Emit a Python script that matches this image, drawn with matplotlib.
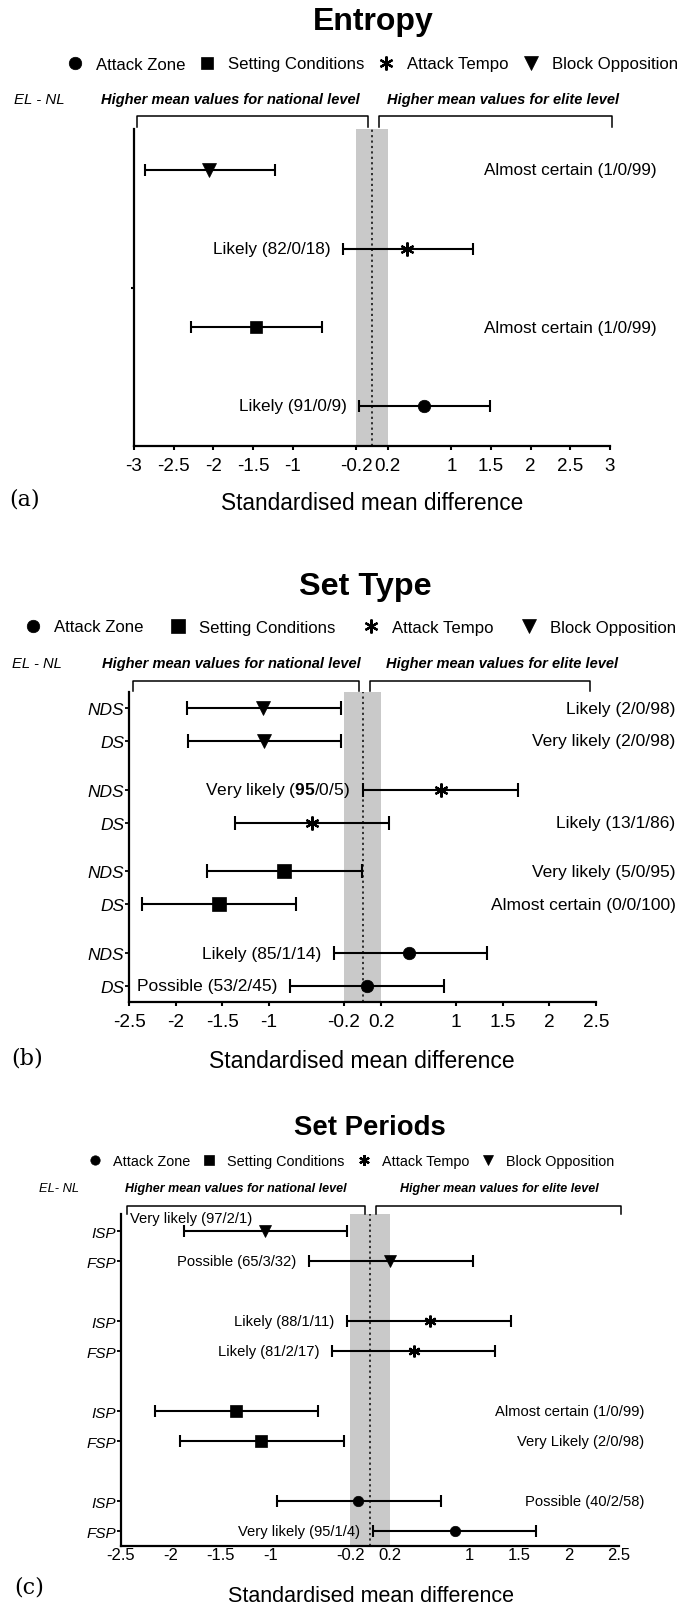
import numpy as np
import matplotlib
matplotlib.use('Agg')
import matplotlib.pyplot as plt
import matplotlib.transforms as mtransforms

plt.rcParams['font.family'] = ['Liberation Sans', 'DejaVu Sans']
plt.rcParams['mathtext.fontset'] = 'custom'
plt.rcParams['mathtext.rm'] = 'Liberation Sans'
plt.rcParams['mathtext.bf'] = 'Liberation Sans:bold'

W, H = 684, 1608

# legend order
categories = ['Attack Zone', 'Setting Conditions', 'Attack Tempo', 'Block Opposition']
markers = {'Attack Zone': 'o', 'Setting Conditions': 's',
           'Attack Tempo': (6, 2, 0), 'Block Opposition': 'v'}

# (a) Entropy  - rows from top to bottom
entropy_cat = ['Block Opposition', 'Attack Tempo', 'Setting Conditions', 'Attack Zone']
entropy_mean = [-2.05, 0.44, -1.46, 0.65]
entropy_lo = [-2.86, -0.37, -2.28, -0.16]
entropy_hi = [-1.22, 1.27, -0.63, 1.49]
entropy_labels = ['Almost certain (1/0/99)', 'Likely (82/0/18)',
                  'Almost certain (1/0/99)', 'Likely (91/0/9)']
entropy_side = ['right', 'left', 'right', 'left']

# (b) Set Type
settype_cat = ['Block Opposition', 'Block Opposition', 'Attack Tempo', 'Attack Tempo',
               'Setting Conditions', 'Setting Conditions', 'Attack Zone', 'Attack Zone']
settype_rows = ['NDS', 'DS'] * 4
settype_mean = [-1.06, -1.05, 0.84, -0.54, -0.84, -1.54, 0.50, 0.05]
settype_lo = [-1.88, -1.87, 0.00, -1.36, -1.66, -2.36, -0.31, -0.78]
settype_hi = [-0.23, -0.23, 1.66, 0.28, -0.01, -0.71, 1.33, 0.87]
settype_labels = ['Likely (2/0/98)', 'Very likely (2/0/98)',
                  r'Very likely ($\mathbf{95}$/0/5)', 'Likely (13/1/86)',
                  'Very likely (5/0/95)', 'Almost certain (0/0/100)',
                  'Likely (85/1/14)', 'Possible (53/2/45)']
settype_side = ['right', 'right', 'left', 'right', 'right', 'right', 'left', 'left']

# (c) Set Periods
setper_cat = settype_cat
setper_rows = ['ISP', 'FSP'] * 4
setper_mean = [-1.05, 0.20, 0.60, 0.44, -1.35, -1.09, -0.12, 0.85]
setper_lo = [-1.87, -0.61, -0.23, -0.38, -2.16, -1.91, -0.93, 0.03]
setper_hi = [-0.23, 1.03, 1.42, 1.26, -0.52, -0.26, 0.71, 1.67]
setper_labels = ['Very likely (97/2/1)', 'Possible (65/3/32)', 'Likely (88/1/11)',
                 'Likely (81/2/17)', 'Almost certain (1/0/99)', 'Very Likely (2/0/98)',
                 'Possible (40/2/58)', 'Very likely (95/1/4)']
setper_side = ['top', 'left', 'left', 'left', 'right', 'right', 'right', 'left']

ticks_a = [-3, -2.5, -2, -1.5, -1, -0.2, 0.2, 1, 1.5, 2, 2.5, 3]
ticks_bc = [-2.5, -2, -1.5, -1, -0.2, 0.2, 1, 1.5, 2, 2.5]


def fx(px):
    return px / W


def fy(py):
    return 1 - py / H


def px_axes(l, t, r, b):
    return [l / W, 1 - b / H, (r - l) / W, (b - t) / H]


def tick_text(v):
    return ('%g' % v).replace('\u2212', '-')


fig = plt.figure(figsize=(W / 100, H / 100), dpi=100)


def panel(box, cats, mean, lo, hi, ypos, ylim, labels, sides, xlim, xticks,
          ms, cap, fs_ann, fs_tick, tick_len, tick_pad, right_x, top_off,
          brackets, br_top, br_bot, rowlabels=None, fs_row=12):
    ax = fig.add_axes(px_axes(*box))
    mean = np.array(mean)
    lo = np.array(lo)
    hi = np.array(hi)
    ypos = np.array(ypos, dtype=float)

    ax.axvspan(-0.2, 0.2, color='#c9c9c9', lw=0, zorder=0)
    ax.axvline(0, color='#222222', ls=(0, (1.2, 1.8)), lw=1.3, zorder=1)
    ax.errorbar(mean, ypos, xerr=[mean - lo, hi - mean], fmt='none', ecolor='black',
                elinewidth=1.5, capsize=cap, capthick=1.5, zorder=3)
    for c in categories:
        idx = [i for i, k in enumerate(cats) if k == c]
        ax.plot(mean[idx], ypos[idx], ls='none', marker=markers[c], color='black',
                ms=ms[c], mew=1.6 if c == 'Attack Tempo' else 0.5, label=c, zorder=4)

    trans_r = mtransforms.blended_transform_factory(ax.transAxes, ax.transData)
    for i, lab in enumerate(labels):
        if sides[i] == 'left':
            ax.annotate(lab, xy=(lo[i], ypos[i]), xytext=(-9, 0), textcoords='offset points',
                        ha='right', va='center', fontsize=fs_ann)
        elif sides[i] == 'right':
            ax.text(right_x, ypos[i], lab, transform=trans_r, ha='right', va='center',
                    fontsize=fs_ann, clip_on=False)
        else:
            ax.annotate(lab, xy=(0.018, ypos[i]), xycoords=trans_r, xytext=(0, top_off),
                        textcoords='offset points', ha='left', va='center', fontsize=fs_ann)

    # brackets above the axes
    trans_b = mtransforms.blended_transform_factory(ax.transData, ax.transAxes)
    for x0, x1 in brackets:
        ax.plot([x0, x0, x1, x1], [br_bot, br_top, br_top, br_bot], color='black',
                lw=1.1, transform=trans_b, clip_on=False)

    ax.set_xlim(*xlim)
    ax.set_ylim(*ylim)
    ax.set_xticks(xticks)
    ax.set_xticklabels([tick_text(v) for v in xticks])
    ax.tick_params(axis='x', length=tick_len, width=1.5, pad=tick_pad, labelsize=fs_tick)
    if rowlabels is None:
        ax.set_yticks([np.mean(ylim)])
        ax.set_yticklabels([''])
        ax.tick_params(axis='y', length=2, width=1.5)
    else:
        ax.set_yticks(ypos)
        ax.set_yticklabels(rowlabels, fontstyle='italic', fontsize=fs_row)
        ax.tick_params(axis='y', length=3, width=1.3, pad=0.5)
    for s in ['top', 'right']:
        ax.spines[s].set_visible(False)
    for s in ['left', 'bottom']:
        ax.spines[s].set_linewidth(1.6)
    return ax


def header(ax, title, ty, tx, tfs, leg_xy, leg_fs, colsp, ms_leg, el, el_x, hy, nat_x, eli_x, hfs, elfs):
    fig.text(fx(tx), fy(ty), title, ha='center', va='center', fontsize=tfs, fontweight='bold')
    h, l = ax.get_legend_handles_labels()
    fig.legend(h, l, loc='center', bbox_to_anchor=(fx(leg_xy[0]), fy(leg_xy[1])), ncol=4,
               frameon=False, fontsize=leg_fs, handlelength=1.0, handletextpad=0.75,
               columnspacing=colsp, markerscale=ms_leg, borderpad=0, borderaxespad=0)
    fig.text(fx(el_x), fy(hy), el, ha='left', va='center', fontsize=elfs, fontstyle='italic')
    fig.text(fx(nat_x), fy(hy), 'Higher mean values for national level', ha='center', va='center',
             fontsize=hfs, fontstyle='italic', fontweight='bold')
    fig.text(fx(eli_x), fy(hy), 'Higher mean values for elite level', ha='center', va='center',
             fontsize=hfs, fontstyle='italic', fontweight='bold')


def footer(letter, lx, ly, xl_x, xl_y, xfs):
    fig.text(fx(lx), fy(ly), letter, ha='left', va='center', fontsize=16, family='DejaVu Serif')
    fig.text(fx(xl_x), fy(xl_y), 'Standardised mean difference', ha='center', va='center',
             fontsize=xfs)


# ---------- (a) ----------
ms_a = {'Attack Zone': 9, 'Setting Conditions': 9, 'Attack Tempo': 10, 'Block Opposition': 10}
ax_a = panel((134, 130, 610, 447), entropy_cat, entropy_mean, entropy_lo, entropy_hi,
             [4, 3, 2, 1], (0.49, 4.52), entropy_labels, entropy_side, (-3, 3), ticks_a,
             ms_a, 4.5, 12.3, 13.5, 3, 5, 1.097, 0,
             [(-2.96, -0.05), (0.09, 3.03)], 1 + 13 / 317, 1 + 2 / 317)
header(ax_a, 'Entropy', 22, 373, 23, (372, 65), 12.1, 0.8, 1.0, 'EL - NL', 14, 100, 230, 503, 10.5, 10.8)
footer('(a)', 9, 500, 372, 503, 16.3)

# ---------- (b) ----------
rows_b = [(3 - i // 2) * 2.5 + (1 - i % 2) for i in range(8)]
ms_b = {'Attack Zone': 9, 'Setting Conditions': 9.5, 'Attack Tempo': 10, 'Block Opposition': 10}
ax_b = panel((129, 693, 596, 1003), settype_cat, settype_mean, settype_lo, settype_hi,
             rows_b, (-0.5, 9.0), settype_labels, settype_side, (-2.5, 2.5), ticks_bc,
             ms_b, 5, 12.5, 13.7, 3, 5, 1.17, 0,
             [(-2.46, -0.04), (0.08, 2.44)], 1 + 11 / 310, 1 + 1 / 310,
             rowlabels=settype_rows, fs_row=12.5)
header(ax_b, 'Set Type', 587, 365, 23.3, (350, 628), 12.1, 1.6, 1.0, 'EL - NL', 12, 664, 231, 502, 10.5, 10.6)
footer('(b)', 11, 1058, 362, 1062, 16.5)

# ---------- (c) ----------
rows_c = [(3 - i // 2) * 3 + (1 - i % 2) for i in range(8)]
ms_c = {'Attack Zone': 7.5, 'Setting Conditions': 8, 'Attack Tempo': 8.5, 'Block Opposition': 8.5}
ax_c = panel((121, 1215, 619, 1547), setper_cat, setper_mean, setper_lo, setper_hi,
             rows_c, (-0.5, 10.57), setper_labels, setper_side, (-2.5, 2.5), ticks_bc,
             ms_c, 4.5, 10.6, 12, 0, 1, 1.05, 9.4,
             [(-2.44, -0.05), (0.06, 2.52)], 1 + 8 / 332, 1.0,
             rowlabels=setper_rows, fs_row=11)
header(ax_c, 'Set Periods', 1128, 370, 19.8, (351, 1162), 10.4, 0.8, 0.9, 'EL- NL', 39, 1189, 236, 499, 9, 9.3)
footer('(c)', 14, 1588, 371, 1597, 15.5)

fig.savefig('out.png', dpi=100)
